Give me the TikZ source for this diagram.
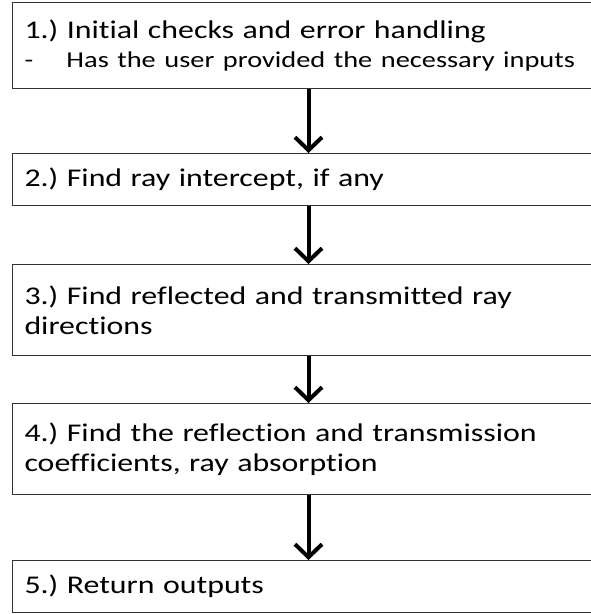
\documentclass[tikz,border=0pt]{standalone}
\usepackage{fontspec}
\setmainfont{Carlito}[FakeStretch=1.25, Ligatures=NoCommon]
\usetikzlibrary{arrows.meta}
\frenchspacing
\tikzset{
  stepbox/.style={draw=black!80, line width=1pt, rectangle, anchor=north west,
    minimum width=592pt, inner xsep=12pt, inner ysep=0pt, text width=568pt,
    align=left, font=\fontsize{25.5}{30}\selectfont},
  flow/.style={line width=4pt,
    -{Straight Barb[length=13pt,width=27pt,line width=4pt]}}
}
\newcommand{\subtext}{\fontsize{22.7}{29}\selectfont}
\begin{document}
\begin{tikzpicture}[x=1pt,y=-1pt]
\useasboundingbox (0,0) rectangle (590,614);
\node[stepbox, minimum height=86pt] (b1) at (12,2)
  {1.) Initial checks and error handling\\[-1pt]
   {\subtext\makebox[42pt][l]{-}Has the user provided the necessary inputs}};
\node[stepbox, minimum height=52pt] (b2) at (12,153) {2.) Find ray intercept, if any};
\node[stepbox, minimum height=91pt] (b3) at (12,264) {3.) Find reflected and transmitted ray\\directions};
\node[stepbox, minimum height=91pt] (b4) at (12,403) {4.) Find the reflection and transmission\\coefficients, ray absorption};
\node[stepbox, minimum height=52pt] (b5) at (12,560) {5.) Return outputs};
\draw[flow] (b1.south) -- (b2.north);
\draw[flow] (b2.south) -- (b3.north);
\draw[flow] (b3.south) -- (b4.north);
\draw[flow] (b4.south) -- (b5.north);
\end{tikzpicture}
\end{document}
